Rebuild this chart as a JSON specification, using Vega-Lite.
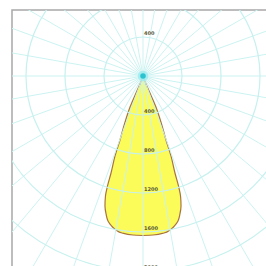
{
  "$schema": "https://vega.github.io/schema/vega-lite/v6.json",
  "width": 256,
  "height": 258,
  "autosize": "none",
  "padding": {"left": 12, "top": 10, "right": 0, "bottom": 0},
  "background": "white",
  "config": {"view": {"stroke": "#a8a8a8", "strokeWidth": 1.5}},
  "datasets": {
    "lobe": [
      {"v": 0, "left": 0, "right": 0},
      {"v": -82, "left": -31, "right": 31},
      {"v": -164, "left": -67, "right": 67},
      {"v": -318, "left": -133, "right": 133},
      {"v": -492, "left": -190, "right": 190},
      {"v": -656, "left": -236, "right": 236},
      {"v": -820, "left": -287, "right": 287},
      {"v": -995, "left": -328, "right": 328},
      {"v": -1128, "left": -364, "right": 364},
      {"v": -1231, "left": -385, "right": 385},
      {"v": -1333, "left": -390, "right": 390},
      {"v": -1415, "left": -379, "right": 379},
      {"v": -1487, "left": -359, "right": 359},
      {"v": -1538, "left": -323, "right": 323},
      {"v": -1579, "left": -277, "right": 277},
      {"v": -1610, "left": -215, "right": 215},
      {"v": -1631, "left": -103, "right": 103},
      {"v": -1636, "left": 0, "right": 0}
    ],
    "rings": [
      {"r": 400}, {"r": 800}, {"r": 1200}, {"r": 1600}, {"r": 2000}, {"r": 2400}
    ],
    "spokes": [
      {"x1": 0, "y1": 3000, "x2": 0, "y2": -3000},
      {"x1": 520.9, "y1": 2954.4, "x2": -520.9, "y2": -2954.4},
      {"x1": 1026.1, "y1": 2819.1, "x2": -1026.1, "y2": -2819.1},
      {"x1": 1500, "y1": 2598.1, "x2": -1500, "y2": -2598.1},
      {"x1": 1928.4, "y1": 2298.1, "x2": -1928.4, "y2": -2298.1},
      {"x1": 2298.1, "y1": 1928.4, "x2": -2298.1, "y2": -1928.4},
      {"x1": 2598.1, "y1": 1500, "x2": -2598.1, "y2": -1500},
      {"x1": 2819.1, "y1": 1026.1, "x2": -2819.1, "y2": -1026.1},
      {"x1": 2954.4, "y1": 520.9, "x2": -2954.4, "y2": -520.9},
      {"x1": 3000, "y1": 0, "x2": -3000, "y2": 0},
      {"x1": 2954.4, "y1": -520.9, "x2": -2954.4, "y2": 520.9},
      {"x1": 2819.1, "y1": -1026.1, "x2": -2819.1, "y2": 1026.1},
      {"x1": 2598.1, "y1": -1500, "x2": -2598.1, "y2": 1500},
      {"x1": 2298.1, "y1": -1928.4, "x2": -2298.1, "y2": 1928.4},
      {"x1": 1928.4, "y1": -2298.1, "x2": -1928.4, "y2": 2298.1},
      {"x1": 1500, "y1": -2598.1, "x2": -1500, "y2": 2598.1},
      {"x1": 1026.1, "y1": -2819.1, "x2": -1026.1, "y2": 2819.1},
      {"x1": 520.9, "y1": -2954.4, "x2": -520.9, "y2": 2954.4}
    ],
    "labels": [
      {"v": 400, "label": "400"},
      {"v": -400, "label": "400"},
      {"v": -800, "label": "800"},
      {"v": -1200, "label": "1200"},
      {"v": -1600, "label": "1600"},
      {"v": -2000, "label": "2000"}
    ]
  },
  "layer": [
    {
      "data": {"name": "lobe"},
      "mark": {"type": "area", "orient": "horizontal", "interpolate": "monotone", "fill": "#fbfb5a", "stroke": "#a8743e", "strokeWidth": 1.2, "clip": true},
      "encoding": {
        "y": {"field": "v", "type": "quantitative", "scale": {"domain": [-1969.2, 676.9], "nice": false, "zero": false}, "axis": null},
        "x": {"field": "left", "type": "quantitative", "scale": {"domain": [-1343.6, 1282.1], "nice": false, "zero": false}, "axis": null},
        "x2": {"field": "right"}
      }
    },
    {
      "data": {"name": "spokes"},
      "mark": {"type": "rule", "color": "#cbf3f1", "strokeWidth": 1, "clip": true},
      "encoding": {
        "x": {"field": "x1", "type": "quantitative"},
        "y": {"field": "y1", "type": "quantitative"},
        "x2": {"field": "x2"},
        "y2": {"field": "y2"}
      }
    },
    {
      "data": {"name": "rings"},
      "mark": {"type": "arc", "filled": false, "color": "#c6f1ef", "strokeWidth": 1.2, "clip": true},
      "encoding": {
        "x": {"datum": 0, "type": "quantitative"},
        "y": {"datum": 0, "type": "quantitative"},
        "radius": {"field": "r", "type": "quantitative", "stack": null, "scale": {"type": "linear", "domain": [0, 2400], "range": [0, 234], "zero": true}, "legend": null}
      }
    },
    {
      "data": {"values": [{"cx": 0, "cy": 0}]},
      "mark": {"type": "point", "filled": true, "color": "#7fe6f0", "size": 110, "opacity": 0.5},
      "encoding": {
        "x": {"field": "cx", "type": "quantitative"},
        "y": {"field": "cy", "type": "quantitative"}
      }
    },
    {
      "data": {"values": [{"cx": 0, "cy": 0}]},
      "mark": {"type": "point", "filled": true, "color": "#1fbfcc", "size": 30, "opacity": 0.9},
      "encoding": {
        "x": {"field": "cx", "type": "quantitative"},
        "y": {"field": "cy", "type": "quantitative"}
      }
    },
    {
      "data": {"name": "labels"},
      "mark": {"type": "text", "align": "left", "baseline": "bottom", "dx": 1, "dy": -1, "fontSize": 5, "font": "DejaVu Sans", "fontWeight": "bold", "color": "#5a5a3a", "clip": true},
      "encoding": {
        "x": {"datum": 0, "type": "quantitative"},
        "y": {"field": "v", "type": "quantitative"},
        "text": {"field": "label"}
      }
    }
  ]
}
